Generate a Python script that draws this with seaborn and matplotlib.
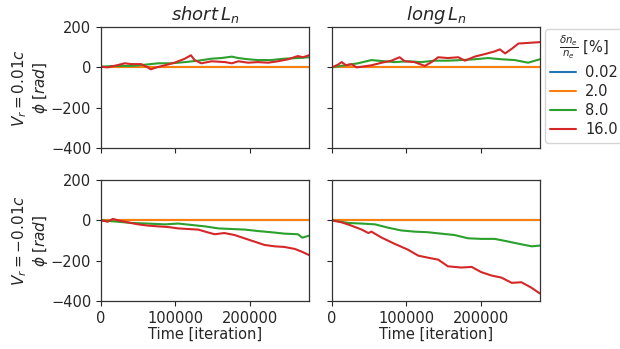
import numpy as np
import pandas as pd
import matplotlib
matplotlib.use("Agg")
import matplotlib.pyplot as plt
import seaborn as sns

# ---------------- data (time in thousands of iterations, phase in rad) -------------
levels = ["0.02", "2.0", "8.0", "16.0"]
palette = ["#1f77b4", "#ff7f0e", "#2ca02c", "#d62728"]

flat_t = [0, 70, 140, 210, 280]
flat_phi = [0, 0, 0, 0, 0]

# short L_n, Vr = 0.01c
sp_green_t = [0, 18, 41, 59, 77, 95, 113, 131, 149, 162, 176, 185, 198, 211, 229, 247, 265, 280]
sp_green = [3, 7, 7, 13, 20, 20, 26, 33, 43, 46, 53, 46, 40, 36, 36, 43, 46, 50]
sp_red_t = [0, 9, 18, 32, 41, 54, 63, 67, 75, 86, 99, 113, 121, 126, 135, 149, 167, 176,
            185, 198, 211, 225, 238, 252, 265, 272, 280]
sp_red = [3, 0, 7, 20, 16, 16, 0, -10, 0, 10, 23, 43, 60, 36, 20, 30, 26, 20,
          30, 23, 26, 23, 30, 40, 56, 50, 60]

# long L_n, Vr = 0.01c
lp_green_t = [0, 17, 35, 53, 71, 84, 102, 120, 138, 156, 174, 192, 210, 228, 246, 264, 280]
lp_green = [0, 10, 20, 36, 30, 26, 30, 26, 33, 33, 36, 40, 46, 40, 36, 23, 40]
lp_red_t = [0, 8, 13, 19, 26, 33, 40, 53, 67, 80, 91, 98, 111, 125, 134, 143, 156, 170,
            179, 192, 206, 219, 226, 233, 242, 251, 280]
lp_red = [0, 13, 26, 10, 16, 0, 3, 10, 23, 33, 50, 30, 26, 7, 26, 50, 46, 50,
          33, 53, 66, 79, 89, 69, 92, 118, 125]

# short L_n, Vr = -0.01c
sn_green_t = [0, 23, 41, 63, 86, 104, 122, 140, 158, 176, 194, 211, 229, 247, 265, 271, 280]
sn_green = [0, -7, -13, -16, -20, -16, -23, -30, -40, -43, -46, -53, -59, -66, -69, -86, -76]
sn_red_t = [0, 9, 16, 23, 36, 50, 63, 77, 90, 104, 117, 131, 144, 153, 166, 180, 193,
            207, 220, 234, 247, 261, 270, 280]
sn_red = [0, -7, 7, 0, -10, -20, -26, -30, -33, -40, -43, -46, -60, -69, -63, -73, -89,
          -106, -122, -129, -132, -142, -155, -172]

# long L_n, Vr = -0.01c
ln_green_t = [0, 22, 40, 58, 75, 93, 111, 129, 147, 165, 183, 201, 219, 233, 251, 269, 280]
ln_green = [0, -13, -16, -20, -36, -50, -56, -59, -66, -73, -89, -92, -92, -102, -116, -129, -125]
ln_red_t = [0, 13, 26, 40, 49, 53, 67, 84, 102, 116, 129, 143, 156, 174, 188, 201, 215,
            228, 242, 255, 268, 280]
ln_red = [0, -10, -26, -46, -63, -56, -86, -116, -145, -175, -185, -195, -228, -234,
          -231, -257, -274, -284, -310, -307, -333, -363]

col_titles = [r"$short\, L_n$", r"$long\, L_n$"]
row_labels = [r"$V_r = 0.01c$" + "\n" + r"$\phi\; [rad]$",
              r"$V_r = -0.01c$" + "\n" + r"$\phi\; [rad]$"]
x_ticks = [0, 100000, 200000]
y_ticks = [-400, -200, 0, 200]

panels = {
    (0, 0): [(flat_t, flat_phi), (flat_t, flat_phi), (sp_green_t, sp_green), (sp_red_t, sp_red)],
    (0, 1): [(flat_t, flat_phi), (flat_t, flat_phi), (lp_green_t, lp_green), (lp_red_t, lp_red)],
    (1, 0): [(flat_t, flat_phi), (flat_t, flat_phi), (sn_green_t, sn_green), (sn_red_t, sn_red)],
    (1, 1): [(flat_t, flat_phi), (flat_t, flat_phi), (ln_green_t, ln_green), (ln_red_t, ln_red)],
}

# ---------------- plot ----------------
sns.set_style("ticks")
plt.rcParams["font.family"] = ["DejaVu Sans"]
plt.rcParams["mathtext.fontset"] = "dejavusans"

fig = plt.figure(figsize=(6.2, 3.49), dpi=100)
W, H = 620, 349
lefts = [101, 332]
tops = [27, 180]
aw, ah = 208, 121
axes = {}
for r in range(2):
    for c in range(2):
        ax = fig.add_axes([lefts[c] / W, 1 - (tops[r] + ah) / H, aw / W, ah / H])
        axes[(r, c)] = ax
        rows = []
        for lvl, (t, v) in zip(levels, panels[(r, c)]):
            for ti, vi in zip(t, v):
                rows.append({"time": ti * 1000, "phi": vi, "level": lvl})
        df = pd.DataFrame(rows)
        sns.lineplot(data=df, x="time", y="phi", hue="level", hue_order=levels,
                     palette=palette, linewidth=1.5, ax=ax, legend=False,
                     estimator=None, sort=True)
        ax.set_xlim(0, 280000)
        ax.set_ylim(-400, 200)
        ax.set_xticks(x_ticks)
        ax.set_yticks(y_ticks)
        ax.tick_params(labelsize=10.5, length=3.5, width=0.8)
        for s in ax.spines.values():
            s.set_color("#333333")
            s.set_linewidth(0.9)
        ax.set_xlabel("")
        ax.set_ylabel("")
        if r == 0:
            ax.set_xticklabels([])
            ax.set_title(col_titles[c], fontsize=13, pad=5)
        else:
            ax.set_xlabel("Time [iteration]", fontsize=10.5, labelpad=1)
        if c == 1:
            ax.set_yticklabels([])
        else:
            ax.set_ylabel(row_labels[r], fontsize=11, labelpad=1, linespacing=1.1)

handles = [plt.Line2D([], [], color=col, lw=1.5) for col in palette]
fig.legend(handles, levels, title=r"$\frac{\delta n_e}{n_e}$ [%]",
           loc="upper left", bbox_to_anchor=(545 / W, 1 - 29 / H),
           borderaxespad=0, fontsize=10.5, title_fontsize=10.5, frameon=True,
           handlelength=1.8, handletextpad=0.6, borderpad=0.35, labelspacing=0.28)

fig.savefig("out.png", dpi=100)
